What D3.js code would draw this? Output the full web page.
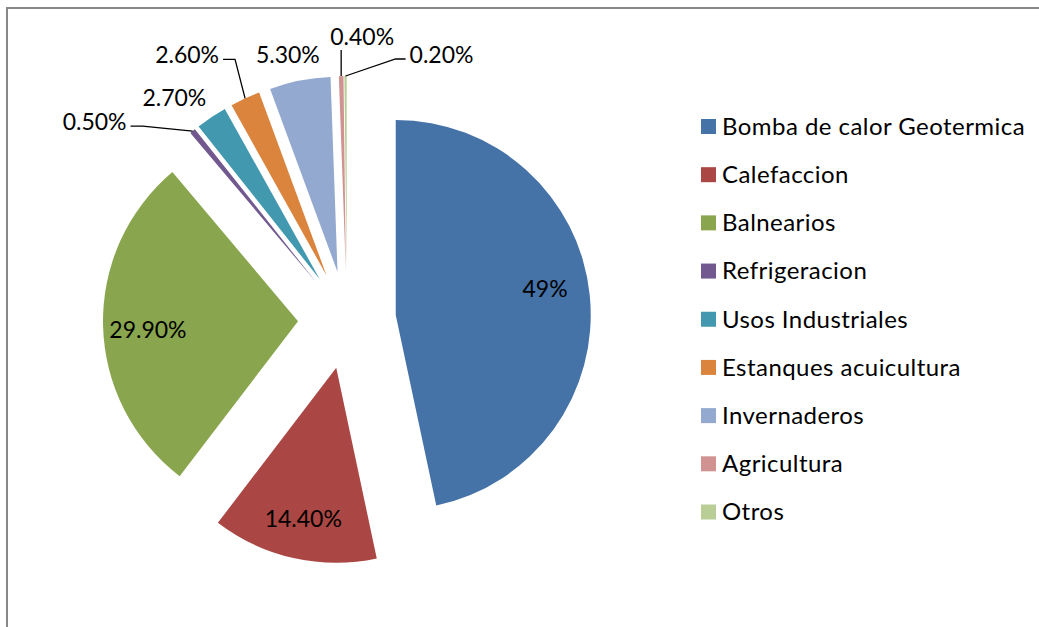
<!DOCTYPE html>
<html>
<head>
<meta charset="utf-8">
<script src="https://cdn.jsdelivr.net/npm/d3@7"></script>
<style>
  body { margin: 0; background: #fff; }
  svg text { font-family: Lato, "Open Sans", sans-serif; font-size: 23px; fill: #000; }
  svg .legend text { font-size: 24px; letter-spacing: 0.45px; }
</style>
</head>
<body>
<svg width="1039" height="627"></svg>
<script>
var categories = ["Bomba de calor Geotermica", "Calefaccion", "Balnearios", "Refrigeracion",
	"Usos Industriales", "Estanques acuicultura", "Invernaderos", "Agricultura", "Otros"];
var values = [49, 14.4, 29.9, 0.5, 2.7, 2.6, 5.3, 0.4, 0.2];
var valueLabels = ["49%", "14.40%", "29.90%", "0.50%", "2.70%", "2.60%", "5.30%", "0.40%", "0.20%"];
var colors = ["#4572A7", "#AA4643", "#89A54E", "#71588F", "#4198AF", "#DB843D", "#93A9CF", "#D19392", "#B9CD96"];

// where the small-slice labels were dragged to (offset from the slice's outer edge)
var labelNudge = [null, null, null, [-98, -9], [-37, -19], [-58, -43], [-12, -26], [21, -39], [96, -21]];

var svg = d3.select("svg"),
	width = +svg.attr("width"),
	height = +svg.attr("height");

var cx = 347, cy = 320, radius = 195, explode = 49;

svg.append("rect")
	.attr("x", 7).attr("y", 8)
	.attr("width", width).attr("height", height)
	.attr("fill", "#fff")
	.attr("stroke", "#888")
	.attr("stroke-width", 2);

var pie = d3.pie().sort(null).value(function (d) { return d; });
var arcs = pie(values);
var arc = d3.arc().innerRadius(0).outerRadius(radius);

function dir(d) {
	var a = (d.startAngle + d.endAngle) / 2;
	return [Math.sin(a), -Math.cos(a)];
}

var g = svg.append("g").attr("transform", "translate(" + cx + "," + cy + ")");

g.selectAll("path")
	.data(arcs)
	.enter().append("path")
	.attr("d", arc)
	.attr("fill", function (d, i) { return colors[i]; })
	.attr("transform", function (d) {
		var v = dir(d);
		return "translate(" + v[0] * explode + "," + v[1] * explode + ")";
	});

// labels
arcs.forEach(function (d, i) {
	var v = dir(d);
	var lx, ly;
	if (!labelNudge[i]) {
		// inside labels, shifted a little the way Excel's best fit does
		lx = v[0] * (explode + radius * 0.77);
		ly = v[1] * (explode + radius * 0.77) + (v[0] > 0.5 ? -10 : 5);
		g.append("text")
			.attr("x", lx).attr("y", ly)
			.attr("dy", "0.35em")
			.attr("text-anchor", "middle")
			.text(valueLabels[i]);
		return;
	}
	var ox = v[0] * (explode + radius), oy = v[1] * (explode + radius);
	lx = ox + labelNudge[i][0];
	ly = oy + labelNudge[i][1];
	var t = g.append("text")
		.attr("x", lx).attr("y", ly)
		.attr("dy", "0.35em")
		.attr("text-anchor", "middle")
		.text(valueLabels[i]);
	var w = t.node().getComputedTextLength() / 2 + 4, h = 11;
	var px = Math.max(lx - w, Math.min(lx + w, ox)),
		py = Math.max(ly - h, Math.min(ly + h, oy));
	if (Math.hypot(px - ox, py - oy) < 18) return;
	var pts;
	if (Math.abs(ox - lx) > w) {
		// side attachment with a short horizontal elbow
		var sx = ox > lx ? lx + w : lx - w;
		var ey = ly + 4;
		var ex = sx + (ox > lx ? 12 : -10);
		pts = [[sx, ey], [ex, ey], [ox, oy]];
	} else {
		pts = [[px, ly + h + 2], [ox, oy]];
	}
	g.append("path")
		.attr("d", d3.line()(pts))
		.attr("fill", "none")
		.attr("stroke", "#000")
		.attr("stroke-width", 1.3);
});

// legend
var rowY = d3.scalePoint().domain(categories).range([126.5, 512]);

var legend = svg.append("g")
	.attr("class", "legend")
	.selectAll("g")
	.data(categories)
	.enter().append("g")
	.attr("transform", function (d) { return "translate(701," + rowY(d) + ")"; });

legend.append("rect")
	.attr("x", 0).attr("y", -7.5)
	.attr("width", 15).attr("height", 15)
	.attr("fill", function (d, i) { return colors[i]; });

legend.append("text")
	.attr("x", 21)
	.attr("dy", "0.35em")
	.text(function (d) { return d; });
</script>
</body>
</html>
